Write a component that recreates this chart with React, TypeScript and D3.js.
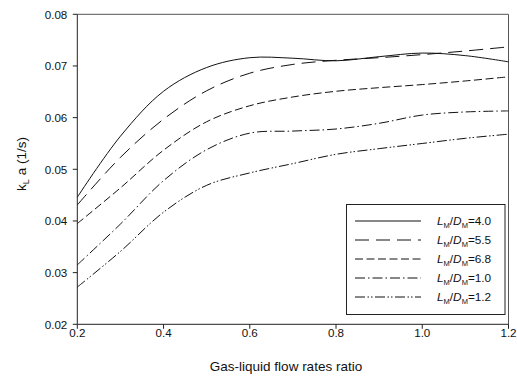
import React from 'react';
import * as d3 from 'd3';

const xValues = [0.2, 0.3, 0.4, 0.5, 0.6, 0.7, 0.8, 0.9, 1.0, 1.1, 1.2];
const ld40 = [0.0446, 0.0564, 0.0651, 0.0697, 0.0716, 0.0715, 0.0710, 0.0718, 0.0725, 0.0720, 0.0708];
const ld55 = [0.0431, 0.0523, 0.0597, 0.0652, 0.0686, 0.0703, 0.0711, 0.0716, 0.0722, 0.0729, 0.0737];
const ld68 = [0.0395, 0.0464, 0.0537, 0.0592, 0.0623, 0.0640, 0.0651, 0.0658, 0.0664, 0.0671, 0.0679];
const ld10 = [0.0315, 0.0394, 0.0478, 0.0538, 0.0570, 0.0574, 0.0578, 0.0589, 0.0605, 0.0611, 0.0613];
const ld12 = [0.0272, 0.0341, 0.0417, 0.0469, 0.0493, 0.0511, 0.0529, 0.0540, 0.0550, 0.0560, 0.0568];

const xTicks = [0.2, 0.4, 0.6, 0.8, 1.0, 1.2];
const yTicks = [0.02, 0.03, 0.04, 0.05, 0.06, 0.07, 0.08];

const seriesNames = ['4.0', '5.5', '6.8', '1.0', '1.2'];
const seriesValues = [ld40, ld55, ld68, ld10, ld12];
const dashes = ['none', '14,7', '8,3.5', '10,3,1.5,3', '10,2.5,1.5,2,1.5,2.5'];

const W = 517;
const H = 378;
const m = { left: 77.3, right: 508.5, top: 14.3, bottom: 324.3 };
const font = 'Arial, "Liberation Sans", sans-serif';

export default function App() {
  const x = d3.scaleLinear().domain([0.2, 1.2]).range([m.left, m.right]);
  const y = d3.scaleLinear().domain([0.02, 0.08]).range([m.bottom, m.top]);

  const line = d3.line<number>()
    .x((_, i) => x(xValues[i]))
    .y(d => y(d))
    .curve(d3.curveCatmullRom.alpha(0.5));

  const legend = { x: 346.5, y: 204.5, w: 158.5, h: 110 };

  return (
    <svg width={W} height={H} style={{ position: 'absolute', left: 0, top: 0, background: '#fff' }}
      fontFamily={font}>
      {/* frame */}
      <line x1={m.left} x2={m.right} y1={m.top} y2={m.top} stroke="#555" strokeWidth={1} />
      <line x1={m.right} x2={m.right} y1={m.top} y2={m.bottom} stroke="#555" strokeWidth={1} />
      <line x1={m.left} x2={m.right} y1={m.bottom} y2={m.bottom} stroke="#222" strokeWidth={1} />
      <line x1={m.left} x2={m.left} y1={m.top} y2={m.bottom} stroke="#222" strokeWidth={1} />

      {xTicks.map(t => (
        <g key={'x' + t}>
          <line x1={x(t)} x2={x(t)} y1={m.bottom} y2={m.bottom + 4.5} stroke="#222" />
          <text x={x(t)} y={m.bottom + 12.8} fontSize={11.6} textAnchor="middle" fill="#111">
            {t.toFixed(1)}
          </text>
        </g>
      ))}
      {yTicks.map(t => (
        <g key={'y' + t}>
          <line x1={m.left - 4.5} x2={m.left} y1={y(t)} y2={y(t)} stroke="#222" />
          <text x={m.left - 10} y={y(t) + 4.2} fontSize={11.6} textAnchor="end" fill="#111">
            {t.toFixed(2)}
          </text>
        </g>
      ))}

      <text x={286} y={371} fontSize={13.5} textAnchor="middle" fill="#111">
        Gas-liquid flow rates ratio
      </text>
      <text transform="translate(26,164) rotate(-90)" fontSize={13.5} textAnchor="middle" fill="#111">
        k<tspan fontSize={9} dy={3}>L</tspan><tspan dy={-3}> a (1/s)</tspan>
      </text>

      {seriesValues.map((vals, i) => (
        <path key={i} d={line(vals) || ''} fill="none" stroke="#111" strokeWidth={1}
          strokeDasharray={dashes[i]} />
      ))}

      <rect x={legend.x} y={legend.y} width={legend.w} height={legend.h} fill="#fff" stroke="#222" />
      {seriesNames.map((n, i) => {
        const ry = legend.y + 16.5 + i * 19;
        return (
          <g key={n}>
            <line x1={355} x2={421} y1={ry} y2={ry} stroke="#111" strokeDasharray={dashes[i]} />
            <text x={437} y={ry + 4} fontSize={11.8} fill="#111">
              <tspan fontStyle="italic">L</tspan>
              <tspan fontSize={7.5} dy={2.5}>M</tspan>
              <tspan dy={-2.5}>/</tspan>
              <tspan fontStyle="italic">D</tspan>
              <tspan fontSize={7.5} dy={2.5}>M</tspan>
              <tspan dy={-2.5}>={n}</tspan>
            </text>
          </g>
        );
      })}
    </svg>
  );
}
